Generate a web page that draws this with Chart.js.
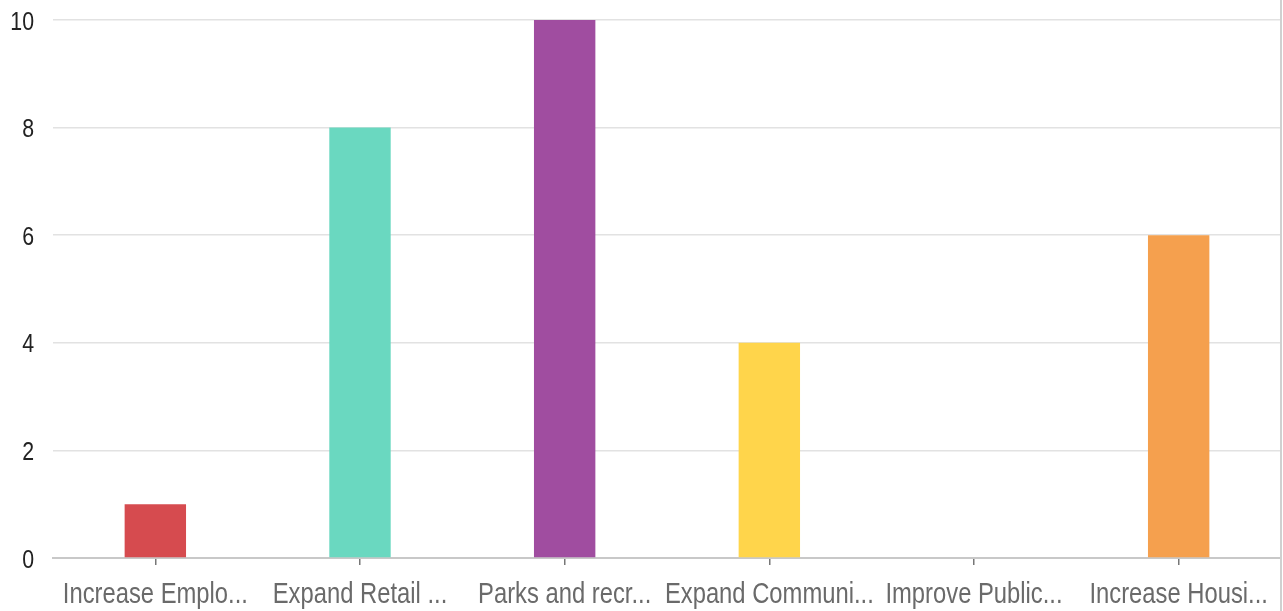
<!DOCTYPE html>
<html>
<head>
<meta charset="utf-8">
<script src="https://cdn.jsdelivr.net/npm/chart.js@4/dist/chart.umd.min.js"></script>
<style>
  html, body { margin: 0; padding: 0; background: #fff; }
  #wrap { width: 1283px; height: 611px; }
</style>
</head>
<body>
<div id="wrap"><canvas id="chart" width="1283" height="611"></canvas></div>
<script>
// Categorias (ya recortadas como en la imagen)
const categories = [
  "Increase Emplo...",
  "Expand Retail ...",
  "Parks and recr...",
  "Expand Communi...",
  "Improve Public...",
  "Increase Housi..."
];
const counts = [1, 8, 10, 4, 0, 6];
const barColors = ["#d64b4f", "#6ad8c0", "#a04da0", "#ffd54b", "#e0d0d0", "#f5a04e"];
const yTicks = [0, 2, 4, 6, 8, 10];

// Texto estrecho: Liberation Sans comprimido horizontalmente
function narrowText(ctx, text, x, y, size, color, align) {
  ctx.save();
  ctx.font = size + "px 'Liberation Sans', Arial, sans-serif";
  ctx.fillStyle = color;
  ctx.textAlign = align;
  ctx.textBaseline = "alphabetic";
  ctx.translate(x, y);
  ctx.scale(0.82, 1);
  ctx.fillText(text, 0, 0);
  ctx.restore();
}

const customText = {
  id: "customText",
  afterDraw(chart) {
    const { ctx, chartArea } = chart;
    const xs = chart.scales.x;
    const ys = chart.scales.y;

    // Linea vertical del borde derecho
    ctx.save();
    ctx.strokeStyle = "#d0d0d0";
    ctx.lineWidth = 2;
    ctx.beginPath();
    ctx.moveTo(chartArea.right, 0);
    ctx.lineTo(chartArea.right, chart.height);
    ctx.stroke();
    ctx.restore();

    categories.forEach((c, i) => {
      narrowText(ctx, c, xs.getPixelForTick(i), chartArea.bottom + 45, 29, "#6a6a6a", "center");
    });
    yTicks.forEach((v) => {
      narrowText(ctx, String(v), chartArea.left - 19, ys.getPixelForValue(v) + 9.5, 26, "#222", "right");
    });
  }
};

const ctx = document.getElementById("chart").getContext("2d");
new Chart(ctx, {
  type: "bar",
  data: {
    labels: categories,
    datasets: [{
      data: counts,
      backgroundColor: barColors,
      borderWidth: 0
    }]
  },
  options: {
    responsive: false,
    animation: false,
    layout: { padding: { top: 20, right: 2, left: 0, bottom: 0 } },
    plugins: { legend: { display: false }, tooltip: { enabled: false } },
    scales: {
      x: {
        afterFit(axis) { axis.height = 53; },
        grid: { display: true, offset: false, drawOnChartArea: false, color: "#777", tickLength: 7, lineWidth: 1.5 },
        border: { display: true, color: "#c8c8c8", width: 2 },
        ticks: { color: "rgba(0,0,0,0)", font: { size: 1 }, padding: 0, maxRotation: 0, autoSkip: false }
      },
      y: {
        min: 0,
        max: 10,
        afterFit(axis) { axis.width = 53; },
        afterBuildTicks(axis) { axis.ticks = yTicks.map(v => ({ value: v })); },
        grid: { color: "#e2e2e2", lineWidth: 1.5, drawTicks: false },
        border: { display: false },
        ticks: { color: "rgba(0,0,0,0)", font: { size: 1 }, padding: 0 }
      }
    },
    datasets: { bar: { categoryPercentage: 1, barPercentage: 0.3 } }
  },
  plugins: [customText]
});
</script>
</body>
</html>
